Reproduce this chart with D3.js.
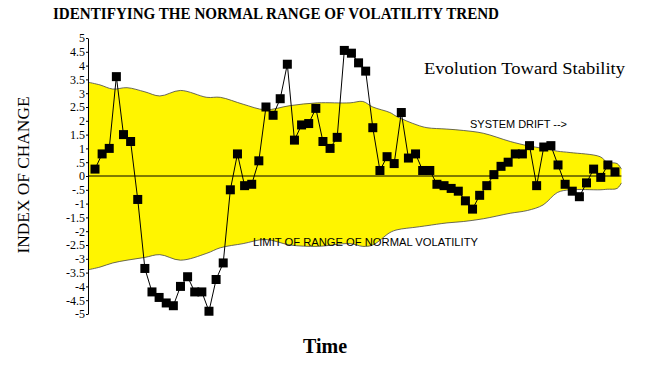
<!DOCTYPE html>
<html>
<head>
<meta charset="utf-8">
<script src="https://cdn.jsdelivr.net/npm/d3@7"></script>
<style>
  body { margin: 0; background: #fff; }
  svg { display: block; }
</style>
</head>
<body>
<svg id="chart"></svg>
<script>
// observed index of change, one value per time step
const values = [
  0.25, 0.8, 1.0, 3.6, 1.5, 1.25, -0.85, -3.35, -4.2, -4.4,
  -4.6, -4.7, -4.0, -3.65, -4.2, -4.2, -4.9, -3.75, -3.15, -0.5,
  0.8, -0.35, -0.3, 0.55, 2.5, 2.2, 2.8, 4.05, 1.3, 1.85,
  1.9, 2.45, 1.25, 1.0, 1.4, 4.55, 4.45, 4.1, 3.8, 1.75,
  0.2, 0.7, 0.45, 2.3, 0.65, 0.8, 0.2, 0.2, -0.3, -0.35,
  -0.45, -0.55, -0.9, -1.2, -0.7, -0.35, 0.05, 0.35, 0.5, 0.8,
  0.8, 1.1, -0.35, 1.05, 1.1, 0.4, -0.3, -0.55, -0.75, -0.25,
  0.25, -0.05, 0.4, 0.15
];

// normal volatility band (position in time steps, upper and lower limit)
const bandAt    = [-1, 0.7, 2.5, 4.5, 7, 9.1, 12, 15.7, 17.6, 20.8, 23.9, 27.4, 31.2, 35.8, 37.6, 39, 41.4, 42.4, 45.2, 46.6, 49.4, 51.7, 54.5, 58.3, 60.7, 62.9, 64.9, 66.7, 70.9, 71.9, 73.3, 73.9];
const bandUpper = [3.4, 3.3, 3.15, 3.2, 3.05, 2.9, 3.1, 2.85, 2.85, 2.6, 2.4, 2.55, 2.65, 2.65, 2.7, 2.5, 2.3, 2.15, 1.85, 1.75, 1.7, 1.65, 1.55, 1.25, 1.1, 1.0, 0.9, 0.85, 0.7, 0.5, 0.45, 0.25];
const bandLower = [-3.4, -3.3, -3.15, -3.05, -2.95, -2.85, -3.05, -2.8, -2.6, -2.45, -2.3, -2.5, -2.55, -2.45, -2.55, -2.5, -2.05, -1.95, -1.85, -1.8, -1.7, -1.65, -1.55, -1.35, -1.25, -1.05, -0.6, -0.5, -0.5, -0.48, -0.45, -0.25];

const tickValues = [5, 4.5, 4, 3.5, 3, 2.5, 2, 1.5, 1, 0.5, 0, -0.5, -1, -1.5, -2, -2.5, -3, -3.5, -4, -4.5, -5];
const tickLabels = ["5", "4.5", "4", "3.5", "3", "2.5", "2", "1.5", "1", ".5", "0", "-.5", "-1", "-1.5", "-2", "-2.5", "-3", "-3.5", "-4", "-4.5", "-5"];

const width = 663, height = 371;
const svg = d3.select("#chart").attr("width", width).attr("height", height);

const x = d3.scaleLinear().domain([0, values.length - 1]).range([95, 615]);
const y = d3.scaleLinear().domain([-5, 5]).range([314, 38]);

const band = bandAt.map((t, i) => ({ t: t, hi: bandUpper[i], lo: bandLower[i] }));

// yellow band
svg.append("path")
  .datum(band)
  .attr("fill", "#fff500")
  .attr("d", d3.area()
    .curve(d3.curveCatmullRom)
    .x(d => x(d.t))
    .y0(d => y(d.lo))
    .y1(d => y(d.hi)));

const edge = key => d3.line().curve(d3.curveCatmullRom).x(d => x(d.t)).y(d => y(d[key]));
svg.append("path").datum(band).attr("fill", "none").attr("stroke", "#444").attr("stroke-width", 0.8).attr("d", edge("hi"));
svg.append("path").datum(band).attr("fill", "none").attr("stroke", "#444").attr("stroke-width", 0.8).attr("d", edge("lo"));

// zero line
svg.append("line")
  .attr("x1", 88).attr("x2", x(73.9))
  .attr("y1", y(0)).attr("y2", y(0))
  .attr("stroke", "#000").attr("stroke-width", 1);

// y axis
const yAxis = svg.append("g")
  .attr("transform", "translate(88,0)")
  .call(d3.axisLeft(y)
    .tickValues(tickValues)
    .tickFormat((d, i) => tickLabels[i])
    .tickSize(2)
    .tickSizeOuter(0)
    .tickPadding(1));
yAxis.select(".domain").attr("stroke", "#000");
yAxis.selectAll("text")
  .attr("font-family", "Liberation Serif, serif")
  .attr("font-size", 12)
  .attr("fill", "#000");

// series line and markers
svg.append("path")
  .datum(values)
  .attr("fill", "none")
  .attr("stroke", "#000")
  .attr("stroke-width", 1)
  .attr("d", d3.line().x((d, i) => x(i)).y(d => y(d)));

const s = 9;
svg.append("g").selectAll("rect")
  .data(values)
  .join("rect")
  .attr("x", (d, i) => x(i) - s / 2)
  .attr("y", d => y(d) - s / 2)
  .attr("width", s).attr("height", s)
  .attr("fill", "#000");

// texts
svg.append("text")
  .attr("x", 53).attr("y", 19)
  .attr("textLength", 446).attr("lengthAdjust", "spacingAndGlyphs")
  .attr("font-family", "Liberation Serif, serif").attr("font-weight", "bold").attr("font-size", 17)
  .text("IDENTIFYING THE NORMAL RANGE OF VOLATILITY TREND");

svg.append("text")
  .attr("transform", "translate(29,175) rotate(-90)")
  .attr("text-anchor", "middle")
  .attr("textLength", 157).attr("lengthAdjust", "spacingAndGlyphs")
  .attr("font-family", "Liberation Serif, serif").attr("font-size", 16)
  .text("INDEX OF CHANGE");

svg.append("text")
  .attr("x", 325).attr("y", 353)
  .attr("text-anchor", "middle")
  .attr("font-family", "Liberation Serif, serif").attr("font-weight", "bold").attr("font-size", 20)
  .text("Time");

svg.append("text")
  .attr("x", 424).attr("y", 74)
  .attr("textLength", 201).attr("lengthAdjust", "spacingAndGlyphs")
  .attr("font-family", "Liberation Serif, serif").attr("font-size", 17)
  .text("Evolution Toward Stability");

svg.append("text")
  .attr("x", 470).attr("y", 128)
  .attr("textLength", 97).attr("lengthAdjust", "spacingAndGlyphs")
  .attr("font-family", "Liberation Sans, Arial, sans-serif").attr("font-size", 11)
  .text("SYSTEM DRIFT -->");

svg.append("text")
  .attr("x", 253).attr("y", 246)
  .attr("textLength", 225).attr("lengthAdjust", "spacingAndGlyphs")
  .attr("font-family", "Liberation Sans, Arial, sans-serif").attr("font-size", 11)
  .text("LIMIT OF RANGE OF NORMAL VOLATILITY");
</script>
</body>
</html>
